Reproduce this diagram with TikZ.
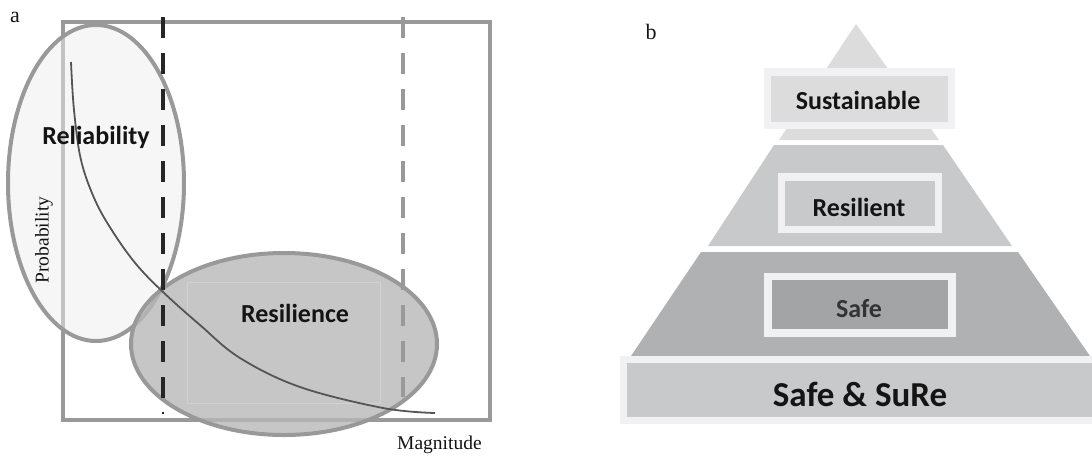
\documentclass[tikz,border=0pt]{standalone}
\usepackage{fontspec}
\setmainfont{Liberation Serif}
\newfontfamily\carlitofont{Carlito}
\definecolor{frameg}{HTML}{999999}
\definecolor{relfill}{HTML}{EEEEEE}
\definecolor{resfill}{HTML}{B8B8B8}
\definecolor{curveg}{HTML}{555555}
\definecolor{lvltop}{HTML}{DCDCDD}
\definecolor{lvlmid}{HTML}{C8C9CB}
\definecolor{lvllow}{HTML}{B0B1B3}
\definecolor{lvlsafe}{HTML}{A3A4A6}
\definecolor{boxrim}{HTML}{F1F1F3}
\definecolor{txt}{HTML}{141414}
\tikzset{
  framel/.style={draw=frameg,line width=4pt},
  dashl/.style={line width=4pt,dash pattern=on 21pt off 15pt},
  boldlab/.style={font=\carlitofont\bfseries\fontsize{26}{30}\selectfont,text=txt,inner sep=0pt},
  seriflab/.style={font=\fontsize{19.5}{22}\selectfont,text=txt,inner sep=0pt},
  rimbox/.style={fill=boxrim},
}
\begin{document}
\begin{tikzpicture}[x=1pt,y=-1pt]
\useasboundingbox (0,0) rectangle (1092,456);
% ---------- panel a ----------
\node[seriflab,font=\fontsize{22}{24}\selectfont] (la) at (15,17) {a};
\draw[framel,line join=miter] (63,22) rectangle (490,420);
% reliability ellipse
\draw[draw=frameg,line width=4pt,fill=relfill,fill opacity=0.5] (96,183) ellipse [x radius=88,y radius=158];
% resilience ellipse
\draw[draw=frameg,line width=4pt,fill=resfill,fill opacity=0.8] (284,344) ellipse [x radius=153,y radius=91];
\draw[white,opacity=0.2,line width=0.6pt] (187,282) rectangle (380,403);
% dashed thresholds
\draw[dashl,draw=black!85] (163,17) -- (163,400);
\draw[draw=black!85,line width=2pt] (163,412) -- (163,414);
\draw[dashl,draw=frameg] (403,17) -- (403,397);
% curve
\draw[curveg,line width=1.8pt] plot[smooth,tension=0.6] coordinates {(71,62) (74,110) (81,160) (95,200) (113,232) (136,264) (163,292) (200,325) (240,358) (300,387) (383,408) (435,413)};
\node[boldlab] (rel) at (96,137) {Reliability};
\node[boldlab] (res) at (295,313) {Resilience};
\node[seriflab,rotate=90] (prob) at (44,240) {Probability};
\node[seriflab] (mag) at (440,445) [anchor=west,xshift=-43pt] {Magnitude};
% ---------- panel b ----------
\node[seriflab,font=\fontsize{22}{24}\selectfont] (lb) at (651,32) {b};
\fill[lvltop] (856,24) -- (939,140) -- (779,140) -- cycle;
\fill[rimbox] (764,68) rectangle (955,129);
\fill[lvltop] (771,76) rectangle (948,122);
\node[boldlab] (sus) at (858,100) {Sustainable};
\fill[lvlmid] (774,145) -- (943,145) -- (1012,246) -- (708,246) -- cycle;
\fill[rimbox] (778,173) rectangle (942,233);
\fill[lvlmid] (785,181) rectangle (935,226);
\node[boldlab] (resl) at (859,207) {Resilient};
\fill[lvllow] (701,252) -- (1018,252) -- (1090,356) -- (631,356) -- cycle;
\fill[rimbox] (764,273) rectangle (956,337);
\fill[lvlsafe] (772,280) rectangle (948,329);
\node[boldlab,text=black!80] (safe) at (859,309) {Safe};
\fill[rimbox] (620,356) rectangle (1092,424);
\fill[lvlmid] (627,363) rectangle (1092,417);
\node[boldlab,font=\carlitofont\bfseries\fontsize{35}{40}\selectfont] (sure) at (860,394) {Safe \& SuRe};
\end{tikzpicture}
\end{document}
